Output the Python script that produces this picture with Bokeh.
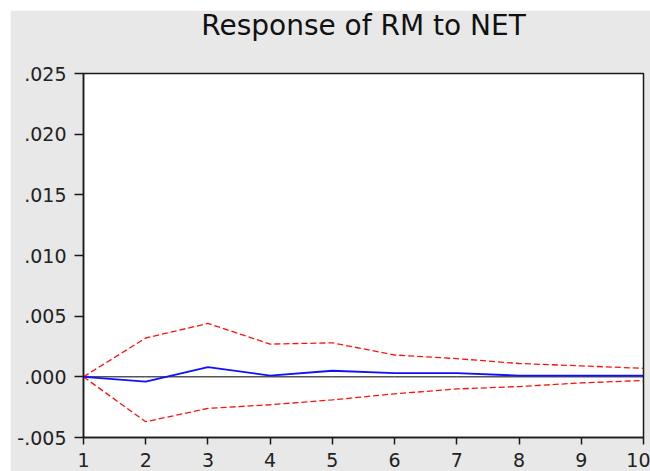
from bokeh.plotting import figure
from bokeh.layouts import column, row
from bokeh.models import FixedTicker, CustomJSTickFormatter, Range1d, Spacer, Title
from bokeh.embed import file_html
from bokeh.resources import INLINE

title_text = "Response of RM to NET"
periods = [1, 2, 3, 4, 5, 6, 7, 8, 9, 10]
response = [0.0, -0.0004, 0.0008, 0.0001, 0.0005, 0.0003, 0.0003, 0.0001, 0.0001, 0.0001]
upper = [0.0, 0.0032, 0.0044, 0.0027, 0.0028, 0.0018, 0.0015, 0.0011, 0.0009, 0.0007]
lower = [0.0, -0.0037, -0.0026, -0.0023, -0.0019, -0.0014, -0.0010, -0.0008, -0.0005, -0.0003]
zero = [0.0] * len(periods)
y_ticks = [-0.005, 0.0, 0.005, 0.010, 0.015, 0.020, 0.025]

BG = "#E8E8E8"

p = figure(width=640, height=461, output_backend="svg", toolbar_location=None,
           x_range=Range1d(1, 10), y_range=Range1d(-0.005, 0.025),
           title=title_text,
           min_border_left=73, min_border_right=7, min_border_top=62, min_border_bottom=34)
p.background_fill_color = "white"
p.border_fill_color = BG
p.outline_line_color = "#1a1a1a"
p.outline_line_width = 1.5
p.grid.visible = False

p.title.align = "center"
p.title.text_font = "DejaVu Sans"
p.title.text_font_size = "28px"
p.title.text_font_style = "normal"
p.title.text_color = "#111111"
p.title.offset = 2
p.title.standoff = -8

# spacer panel (drawn in the background colour) between title and frame
gap = Title(text=".", text_font="DejaVu Sans", text_font_size="10px",
            text_color=BG, standoff=26)
p.add_layout(gap, "above")

for ax in (p.xaxis[0], p.yaxis[0]):
    ax.axis_line_color = "#1a1a1a"
    ax.axis_line_width = 1.5
    ax.major_tick_line_color = "#1a1a1a"
    ax.major_tick_line_width = 1.5
    ax.major_tick_in = 0
    ax.minor_tick_out = 0
    ax.minor_tick_in = 0
    ax.major_label_text_font = "DejaVu Sans"
    ax.major_label_text_color = "#222222"

p.yaxis.major_tick_out = 9
p.yaxis.major_label_standoff = 8
p.yaxis.major_label_text_font_size = "19px"
p.xaxis.major_tick_out = 7
p.xaxis.major_label_standoff = 8
p.xaxis.major_label_text_font_size = "19px"

p.xaxis.ticker = FixedTicker(ticks=periods)
p.yaxis.ticker = FixedTicker(ticks=y_ticks)
p.yaxis.formatter = CustomJSTickFormatter(code="""
    var s = Math.abs(tick).toFixed(3).replace(/^0/, '');
    return (tick < -1e-9 ? '-' : '') + s;
""")

p.line(periods, zero, line_color="black", line_width=1)
p.line(periods, upper, line_color="#FF1010", line_width=1.3, line_dash="6 3")
p.line(periods, lower, line_color="#FF1010", line_width=1.3, line_dash="6 3")
p.line(periods, response, line_color="#1010FF", line_width=1.8)

layout = column(Spacer(height=10), row(Spacer(width=10), p))
open("out.html", "w").write(file_html(layout, INLINE))
